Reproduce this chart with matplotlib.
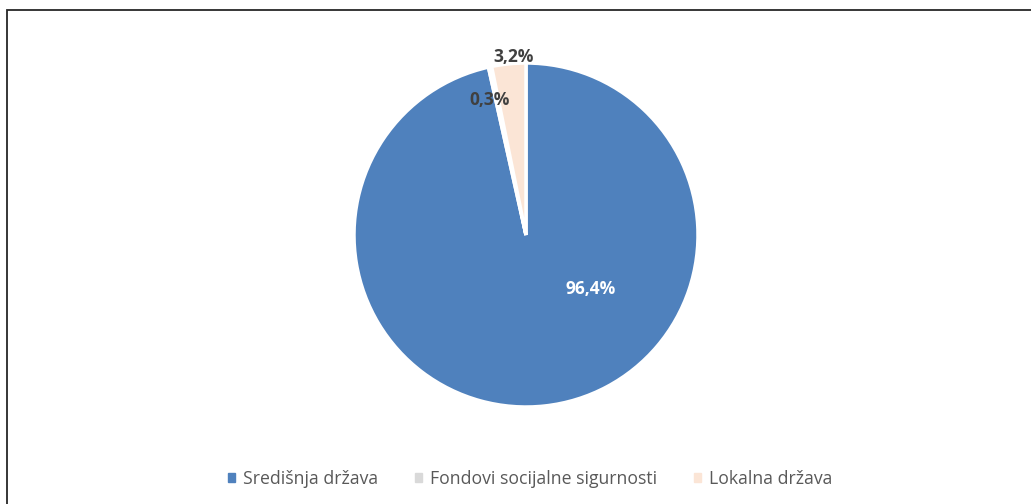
import matplotlib.pyplot as plt
import numpy as np
from matplotlib.patches import Rectangle

labels = ['Središnja država', 'Fondovi socijalne sigurnosti', 'Lokalna država']
shares = [96.4, 0.3, 3.2]
colors = ['#4F81BD', '#D9D9D9', '#FBE5D6']
label_colors = ['white', '#404040', '#404040']
# label placement as (radius fraction, angle in degrees)
label_pos = [(0.49, -40), (0.81, 105), (1.04, 94)]

plt.rcParams['font.family'] = ['Open Sans', 'DejaVu Sans']

fig = plt.figure(figsize=(10.31, 5.04), dpi=100)

# outer frame (cut by the image on the right and bottom)
fig.patches.append(Rectangle((7 / 1031, -0.1), 1.1, 1 - 10 / 504 + 0.1,
                             transform=fig.transFigure, fill=False,
                             edgecolor='#262626', linewidth=1.3))

ax = fig.add_axes([(526 - 172) / 1031, (504 - 407) / 504, 344 / 1031, 344 / 504])
wedges, _ = ax.pie(shares, colors=colors, startangle=90, counterclock=False,
                   wedgeprops=dict(edgecolor='white', linewidth=2.5))
ax.set_xlim(-1, 1)
ax.set_ylim(-1, 1)
ax.set_aspect('equal')
ax.axis('off')

for s, (r, a), c in zip(shares, label_pos, label_colors):
    ax.text(r * np.cos(np.radians(a)), r * np.sin(np.radians(a)),
            f'{s:.1f}%'.replace('.', ','), ha='center', va='center',
            color=c, fontsize=12.5, fontweight='bold', clip_on=False)

handles = [plt.Rectangle((0, 0), 1, 1, color=c) for c in colors]
fig.legend(handles, labels, loc='center', bbox_to_anchor=(530 / 1031, 1 - 479 / 504),
           ncol=3, frameon=False, fontsize=12.7, handlelength=0.4, handleheight=0.4,
           handletextpad=0.45, columnspacing=2.1, labelcolor='#595959')

fig.savefig('out.png', dpi=100)
